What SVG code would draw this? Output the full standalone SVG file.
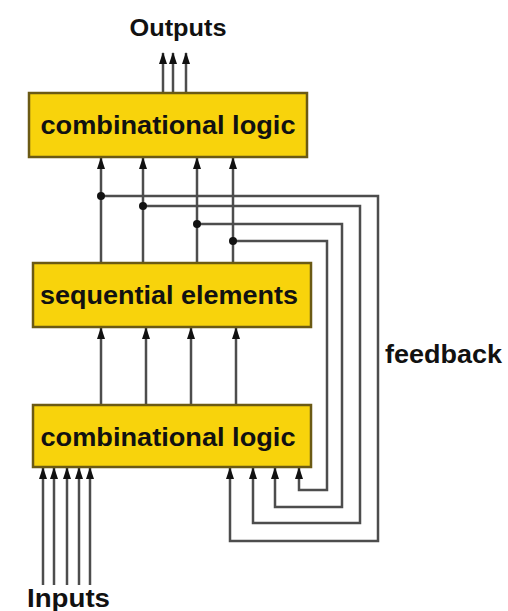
<svg xmlns="http://www.w3.org/2000/svg" width="508" height="611" viewBox="0 0 508 611">
  <style>
    .box { fill: #f8d30c; stroke: #6b5a14; stroke-width: 2.5; }
    .lbl { font-family: "Liberation Sans", Arial, sans-serif; font-weight: bold; fill: #111; }
    .wire { fill: none; stroke: #4d4d4d; stroke-width: 2.5; }
    .arr { marker-end: url(#head); }
    .dot { fill: #111; }
  </style>
  <defs>
    <marker id="head" markerUnits="userSpaceOnUse" markerWidth="12" markerHeight="8" refX="11" refY="4" orient="auto">
      <path d="M0,0 L12,4 L0,8 z" fill="#111"/>
    </marker>
  </defs>
  <rect width="508" height="611" fill="#fff"/>

  <g id="connectors">
    <!-- outputs leaving the upper logic block -->
    <path class="wire arr" d="M163,93 V53"/>
    <path class="wire arr" d="M173,93 V53"/>
    <path class="wire arr" d="M186,93 V53"/>

    <!-- register outputs feeding the upper logic block -->
    <path class="wire arr" d="M101,263 V158"/>
    <path class="wire arr" d="M143,263 V158"/>
    <path class="wire arr" d="M197,263 V158"/>
    <path class="wire arr" d="M233,263 V158"/>

    <!-- lower logic block driving the registers -->
    <path class="wire arr" d="M101,405 V328"/>
    <path class="wire arr" d="M146,405 V328"/>
    <path class="wire arr" d="M191,405 V328"/>
    <path class="wire arr" d="M236,405 V328"/>

    <!-- primary inputs -->
    <path class="wire arr" d="M43,585 V468"/>
    <path class="wire arr" d="M54,585 V468"/>
    <path class="wire arr" d="M67,585 V468"/>
    <path class="wire arr" d="M79,585 V468"/>
    <path class="wire arr" d="M90,585 V468"/>

    <!-- feedback loops back into the lower logic block -->
    <path class="wire arr" d="M101,196 H378 V541 H230 V468"/>
    <path class="wire arr" d="M143,206 H360 V523 H253 V468"/>
    <path class="wire arr" d="M197,224 H342 V507 H275 V468"/>
    <path class="wire arr" d="M233,241 H327 V490 H299 V468"/>

    <circle class="dot" cx="101" cy="196" r="4"/>
    <circle class="dot" cx="143" cy="206" r="4"/>
    <circle class="dot" cx="197" cy="224" r="4"/>
    <circle class="dot" cx="233" cy="241" r="4"/>
  </g>

  <g id="comb-top">
    <rect class="box" x="29" y="93" width="278" height="64"/>
    <text class="lbl" x="168" y="134" font-size="26" text-anchor="middle" textLength="255" lengthAdjust="spacingAndGlyphs">combinational logic</text>
  </g>

  <g id="sequential">
    <rect class="box" x="33" y="263" width="278" height="64"/>
    <text class="lbl" x="169" y="304" font-size="26" text-anchor="middle" textLength="258" lengthAdjust="spacingAndGlyphs">sequential elements</text>
  </g>

  <g id="comb-bottom">
    <rect class="box" x="33" y="405" width="278" height="62"/>
    <text class="lbl" x="168" y="446" font-size="26" text-anchor="middle" textLength="255" lengthAdjust="spacingAndGlyphs">combinational logic</text>
  </g>

  <g id="outputs">
    <text class="lbl" x="178" y="36" font-size="24" text-anchor="middle" textLength="97" lengthAdjust="spacingAndGlyphs">Outputs</text>
  </g>

  <g id="inputs">
    <text class="lbl" x="27" y="607" font-size="25" textLength="83" lengthAdjust="spacingAndGlyphs">Inputs</text>
  </g>

  <g id="feedback">
    <text class="lbl" x="385" y="363" font-size="26" textLength="117" lengthAdjust="spacingAndGlyphs">feedback</text>
  </g>
</svg>
